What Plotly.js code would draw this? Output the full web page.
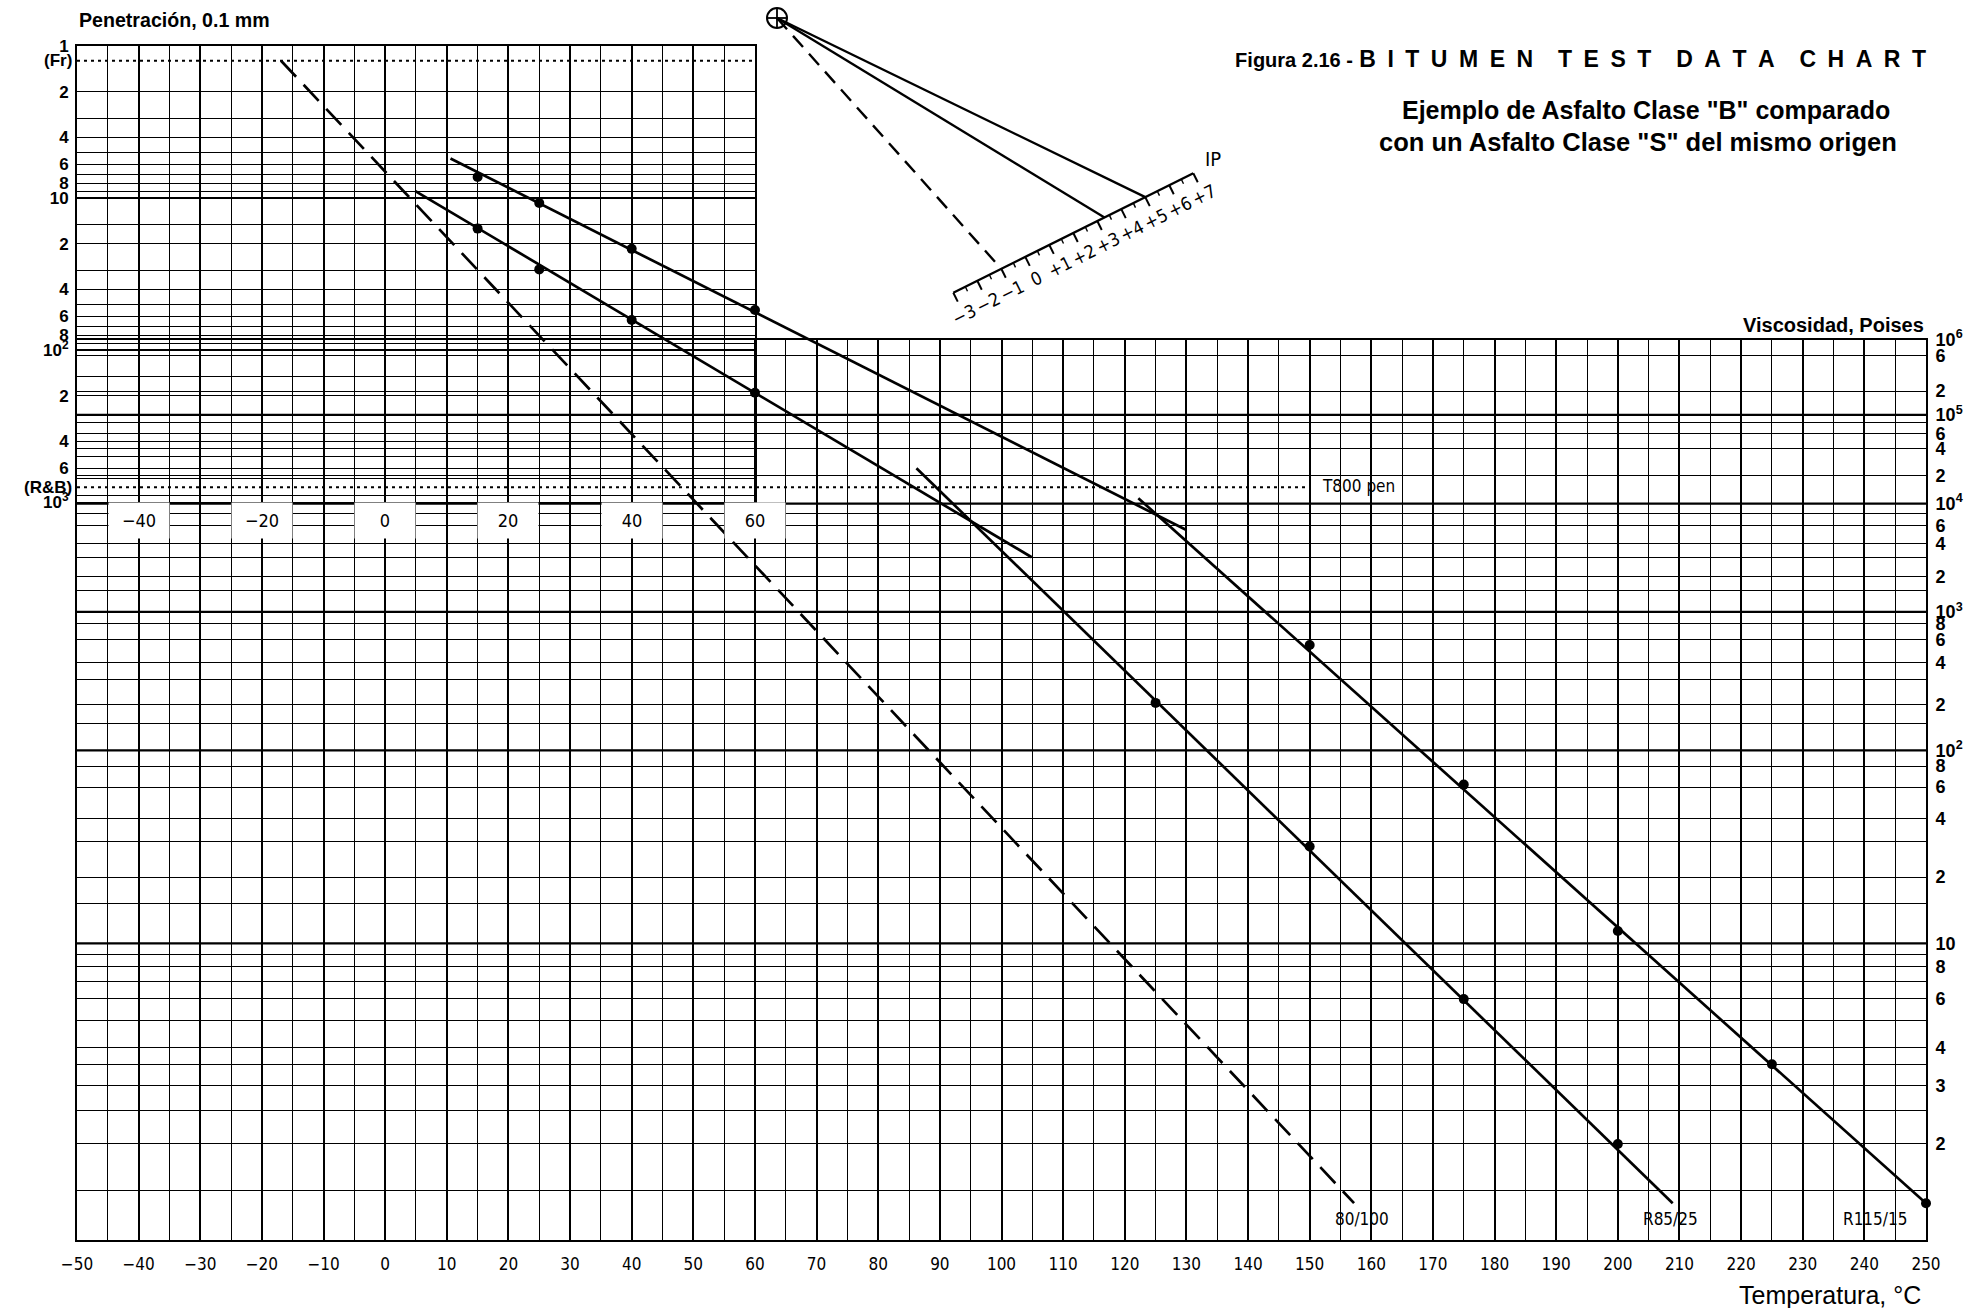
<!DOCTYPE html>
<html>
<head>
<meta charset="utf-8">
<script src="https://cdn.plot.ly/plotly-3.0.1.min.js"></script>
<style>
html,body{margin:0;padding:0;background:#ffffff;}
#chart{width:1975px;height:1308px;}
</style>
</head>
<body>
<div id="chart"></div>
<script>
// ================= DATA =================
// temperature axis (shared)
const tempTicks = [-50,-40,-30,-20,-10,0,10,20,30,40,50,60,70,80,90,100,110,120,130,140,150,160,170,180,190,200,210,220,230,240,250];
const tempTickText = ['\u221250','\u221240','\u221230','\u221220','\u221210','0','10','20','30','40','50','60','70','80','90','100','110','120','130','140','150','160','170','180','190','200','210','220','230','240','250'];
const penTempLabels = [-40,-20,0,20,40,60];
const penTempText = ['\u221240','\u221220','0','20','40','60'];

// viscosity axis (poises)
const viscLabelVals = [1e6,6e5,2e5,1e5,6e4,4e4,2e4,1e4,6e3,4e3,2e3,1e3,800,600,400,200,100,80,60,40,20,10,8,6,4,3,2];
const viscLabelText = ['10<sup>6</sup>','6','2','10<sup>5</sup>','6','4','2','10<sup>4</sup>','6','4','2','10<sup>3</sup>','8','6','4','2','10<sup>2</sup>','8','6','4','2','10','8','6','4','3','2'];
const viscDecades = [10,100,1000,1e4,1e5];
const viscGridExtra = [8e4,8e3,3e3,1.5e3,300,150,30,15,9,7,5,3.5,2.5,1.5];
const viscBottom = 1.133;
const viscTop = 1e6;

// penetration axis (0.1 mm)
const penLabelVals = [1,2,4,6,8,10,20,40,60,80,100,200,400,600,1000];
const penLabelText = ['1','2','4','6','8','10','2','4','6','8','10<sup>2</sup>','2','4','6','10<sup>3</sup>'];
const penDecades = [10,100];
const penGridExtra = [3,5,7,9,15,30,50,70,90,150,300,500,700,900];
const frPen = 1.25;
const rbPen = 800;

// penetration test results
const penTemps = [15,25,40,60];
const penR85 = [15.9,29.5,63.5,191];
const penR115 = [7.28,10.8,21.6,54.6];
// fitted penetration lines (extent)
const fitR85T = [4.9,104.9];
const fitR85P = [9.0,2310];
const fitR115T = [10.6,130.0];
const fitR115P = [5.5,1530];
// 80/100 line (from Fraass point)
const d80T = [-16.9,157.2];
const d80P = [1.25,4.1e7];
// T800 pen line extent
const t800T = [-50,149.7];

// viscosity test results
const viscTempsR85 = [125,150,175,200];
const viscR85 = [205,28.4,5.98,2.0];
const viscTempsR115 = [150,175,200,225,250];
const viscR115 = [543,62.1,11.3,3.51,1.39];
const viscLineR85T = [86.2,208.9];
const viscLineR85V = [23900,1.39];
const viscLineR115T = [122.2,250];
const viscLineR115V = [11400,1.39];

// IP nomograph
const ipTicks = [-3,-2,-1,0,1,2,3,4,5,6,7];
const ipTickText = ['\u22123','\u22122','\u22121','0','+1','+2','+3','+4','+5','+6','+7'];
const ipValues = [-1,3.3,5.0];
const ipDash = ['dash','solid','solid'];

// ================= LAYOUT HELPERS =================
const W = 1975, H = 1308, ML = 77, MR = 49, MT = 46, MB = 68;
const PW = W - ML - MR, PH = H - MT - MB;
const pX = px => (px - ML) / PW;
const pY = py => (H - MB - py) / PH;
const u = v => Math.log10(Math.log10(v) + 1.1);   // log-log viscosity scale
const viscDomTop = pY(339.7);
const penDomLo = pY(502);
const BLACK = '#000';
const STROKE = 'DejaVu Sans Condensed, DejaVu Sans, sans-serif';
const ARIAL = 'Liberation Sans, Arial, sans-serif';

// ================= TRACES =================
const traces = [];
viscDecades.forEach(d => traces.push({x:[-50,250], y:[u(d),u(d)], xaxis:'x', yaxis:'y', mode:'lines', line:{color:BLACK,width:2.2}, hoverinfo:'skip'}));
penDecades.forEach(d => traces.push({x:[-50,60], y:[d,d], xaxis:'x2', yaxis:'y2', mode:'lines', line:{color:BLACK,width:2.2}, hoverinfo:'skip'}));
traces.push({x:[-50,60], y:[frPen,frPen], xaxis:'x2', yaxis:'y2', mode:'lines', line:{color:BLACK,width:2,dash:'3px,4px'}, hoverinfo:'skip'});

traces.push({x:viscLineR85T, y:viscLineR85V.map(u), xaxis:'x', yaxis:'y', mode:'lines', line:{color:BLACK,width:2.7}});
traces.push({x:viscLineR115T, y:viscLineR115V.map(u), xaxis:'x', yaxis:'y', mode:'lines', line:{color:BLACK,width:2.7}});
traces.push({x:viscTempsR85, y:viscR85.map(u), xaxis:'x', yaxis:'y', mode:'markers', marker:{color:BLACK,size:10}, cliponaxis:false});
traces.push({x:viscTempsR115, y:viscR115.map(u), xaxis:'x', yaxis:'y', mode:'markers', marker:{color:BLACK,size:10}, cliponaxis:false});

// overlay: extended penetration scale over the whole plot
traces.push({x:t800T, y:[rbPen,rbPen], xaxis:'x3', yaxis:'y3', mode:'lines', line:{color:BLACK,width:2,dash:'3px,4px'}, hoverinfo:'skip'});
traces.push({x:d80T, y:d80P, xaxis:'x3', yaxis:'y3', mode:'lines', line:{color:BLACK,width:2.7,dash:'22px,11px'}});
traces.push({x:fitR85T, y:fitR85P, xaxis:'x3', yaxis:'y3', mode:'lines', line:{color:BLACK,width:2.7}});
traces.push({x:fitR115T, y:fitR115P, xaxis:'x3', yaxis:'y3', mode:'lines', line:{color:BLACK,width:2.7}});
traces.push({x:penTemps, y:penR85, xaxis:'x3', yaxis:'y3', mode:'markers', marker:{color:BLACK,size:10}, cliponaxis:false});
traces.push({x:penTemps, y:penR115, xaxis:'x3', yaxis:'y3', mode:'markers', marker:{color:BLACK,size:10}, cliponaxis:false});

// ================= NOMOGRAPH (IP) =================
const nomo = {cx:777, cy:18, r:10, ox:953.3, oy:292.7, ux:24.0, uy:-11.94, nx:0.4455, ny:0.8953};
const rp = v => [nomo.ox + (v - ipTicks[0]) * nomo.ux, nomo.oy + (v - ipTicks[0]) * nomo.uy];
const shapes = [];
const seg = (a, b, w, dash) => shapes.push({type:'line', xref:'paper', yref:'paper', x0:pX(a[0]), y0:pY(a[1]), x1:pX(b[0]), y1:pY(b[1]), line:{color:BLACK, width:w, dash:dash||'solid'}});
shapes.push({type:'circle', xref:'paper', yref:'paper', x0:pX(nomo.cx-nomo.r), x1:pX(nomo.cx+nomo.r), y0:pY(nomo.cy+nomo.r), y1:pY(nomo.cy-nomo.r), line:{color:BLACK,width:2}});
seg([nomo.cx-nomo.r, nomo.cy], [nomo.cx+nomo.r, nomo.cy], 1.8);
seg([nomo.cx, nomo.cy-nomo.r], [nomo.cx, nomo.cy+nomo.r], 1.8);
seg(rp(ipTicks[0]), rp(ipTicks[ipTicks.length-1]), 2.4);
for (let v = ipTicks[0]; v <= ipTicks[ipTicks.length-1] + 1e-9; v += 0.5) {
  const a = rp(v);
  const major = Math.abs(v - Math.round(v)) < 1e-6;
  const len = major ? 10 : 5;
  seg(a, [a[0] + nomo.nx*len, a[1] + nomo.ny*len], major ? 2 : 1.4);
}
const C = [nomo.cx, nomo.cy];
ipValues.forEach((v, i) => seg(C, rp(v), 2.4, ipDash[i] === 'dash' ? '15px,9px' : 'solid'));

// ================= ANNOTATIONS =================
const ann = [];
const A = o => ann.push(Object.assign({showarrow:false, xanchor:'center', yanchor:'middle'}, o));
penTempLabels.forEach((t, i) => A({x:t, xref:'x', y:pY(520), yref:'paper', text:penTempText[i], bgcolor:'#fff', width:58, height:33, font:{family:STROKE, size:18, color:BLACK}}));
A({x:0, xref:'paper', xanchor:'left', y:pY(20), yref:'paper', text:'Penetración, 0.1 mm', font:{family:ARIAL, size:19.6, weight:'bold', color:BLACK}});
A({x:pX(74), xref:'paper', xanchor:'right', y:Math.log10(frPen), yref:'y2', text:'(Fr)', font:{family:ARIAL, size:17, weight:'bold', color:BLACK}});
A({x:pX(74), xref:'paper', xanchor:'right', y:Math.log10(rbPen), yref:'y2', text:'(R&B)', font:{family:ARIAL, size:17, weight:'bold', color:BLACK}});
A({x:1, xref:'paper', xanchor:'right', y:pY(325), yref:'paper', text:'Viscosidad, Poises', font:{family:ARIAL, size:20, weight:'bold', color:BLACK}});
A({x:pX(1830), xref:'paper', y:pY(1295), yref:'paper', text:'Temperatura, °C', font:{family:ARIAL, size:25, color:BLACK}});
A({x:pX(1646), xref:'paper', y:pY(110), yref:'paper', text:'Ejemplo de Asfalto Clase "B" comparado', font:{family:ARIAL, size:25, weight:'bold', color:BLACK}});
A({x:pX(1638), xref:'paper', y:pY(142), yref:'paper', text:'con un Asfalto Clase "S" del mismo origen', font:{family:ARIAL, size:25.5, weight:'bold', color:BLACK}});
A({x:t800T[1] + 2, xref:'x', xanchor:'left', y:pY(486), yref:'paper', text:'T800 pen', font:{family:STROKE, size:17, color:BLACK}});
A({x:d80T[1] + 1.3, xref:'x', y:pY(1219), yref:'paper', text:'80/100', font:{family:STROKE, size:17, color:BLACK}});
A({x:viscLineR85T[1] - 0.4, xref:'x', y:pY(1219), yref:'paper', text:'R85/25', font:{family:STROKE, size:17, color:BLACK}});
A({x:viscLineR115T[1] - 8.2, xref:'x', y:pY(1219), yref:'paper', text:'R115/15', font:{family:STROKE, size:17, color:BLACK}});
ipTicks.forEach((v, i) => {
  const a = rp(v);
  A({x:pX(a[0] + nomo.nx*24), y:pY(a[1] + nomo.ny*24), xref:'paper', yref:'paper', text:ipTickText[i], textangle:-26.45, font:{family:STROKE, size:18, color:BLACK}});
});
A({x:pX(1213), y:pY(159), xref:'paper', yref:'paper', text:'IP', font:{family:STROKE, size:20, color:BLACK}});

// ================= LAYOUT =================
const gridCommon = {gridcolor:BLACK, zeroline:false, showline:true, mirror:true, linecolor:BLACK, linewidth:2, fixedrange:true};
const titleText = '<span style="font-size:20px">Figura 2.16 -</span> ' +
  'B\u2002I\u2002T\u2002U\u2002M\u2002E\u2002N\u2003\u200AT\u2002E\u2002S\u2002T\u2003\u200AD\u2002A\u2002T\u2002A\u2003\u200AC\u2002H\u2002A\u2002R\u2002T';
const layout = {
  width:W, height:H,
  margin:{l:ML, r:MR, t:MT, b:MB, pad:0},
  paper_bgcolor:'#ffffff', plot_bgcolor:'rgba(0,0,0,0)',
  showlegend:false,
  font:{family:ARIAL, color:BLACK, size:16},
  title:{text:titleText, x:1926/W, xanchor:'right', xref:'container', y:1 - 59/H, yanchor:'middle', yref:'container',
         font:{family:ARIAL, size:23, weight:'bold', color:BLACK}},
  xaxis:Object.assign({}, gridCommon, {domain:[0,1], range:[-50,250], anchor:'y', tickmode:'array', tickvals:tempTicks, ticktext:tempTickText,
         showgrid:true, gridwidth:2, ticks:'', ticklabelstandoff:8, tickfont:{family:STROKE, size:17, color:BLACK},
         minor:{tickmode:'linear', tick0:-50, dtick:5, showgrid:true, gridcolor:BLACK, gridwidth:1, ticks:''}}),
  yaxis:Object.assign({}, gridCommon, {domain:[0,viscDomTop], range:[u(viscBottom), u(viscTop)], anchor:'x', side:'right',
         tickmode:'array', tickvals:viscLabelVals.map(u), ticktext:viscLabelText, showgrid:true, gridwidth:1, ticks:'', ticklabelstandoff:4,
         tickfont:{family:ARIAL, size:18, weight:'bold', color:BLACK},
         minor:{tickmode:'array', tickvals:viscGridExtra.map(u), showgrid:true, gridcolor:BLACK, gridwidth:1, ticks:''}}),
  xaxis2:Object.assign({}, gridCommon, {domain:[0,110/300], range:[-50,60], anchor:'y2', tickmode:'linear', tick0:-50, dtick:10,
         showticklabels:false, ticks:'', showgrid:true, gridwidth:2,
         minor:{tickmode:'linear', tick0:-50, dtick:5, showgrid:true, gridcolor:BLACK, gridwidth:1, ticks:''}}),
  yaxis2:Object.assign({}, gridCommon, {domain:[penDomLo,1], type:'log', range:[3,0], anchor:'x2', tickmode:'array',
         tickvals:penLabelVals, ticktext:penLabelText, showgrid:true, gridwidth:1, ticks:'', ticklabelstandoff:3,
         tickfont:{family:ARIAL, size:17, weight:'bold', color:BLACK},
         minor:{tickmode:'array', tickvals:penGridExtra, showgrid:true, gridcolor:BLACK, gridwidth:1, ticks:''}}),
  xaxis3:{domain:[0,1], range:[-50,250], anchor:'y3', visible:false, fixedrange:true},
  yaxis3:{domain:[0,1], type:'log', range:[3/(1-penDomLo), 0], anchor:'x3', visible:false, fixedrange:true},
  shapes:shapes,
  annotations:ann
};

Plotly.newPlot('chart', traces, layout, {staticPlot:true, displayModeBar:false});
</script>
</body>
</html>
